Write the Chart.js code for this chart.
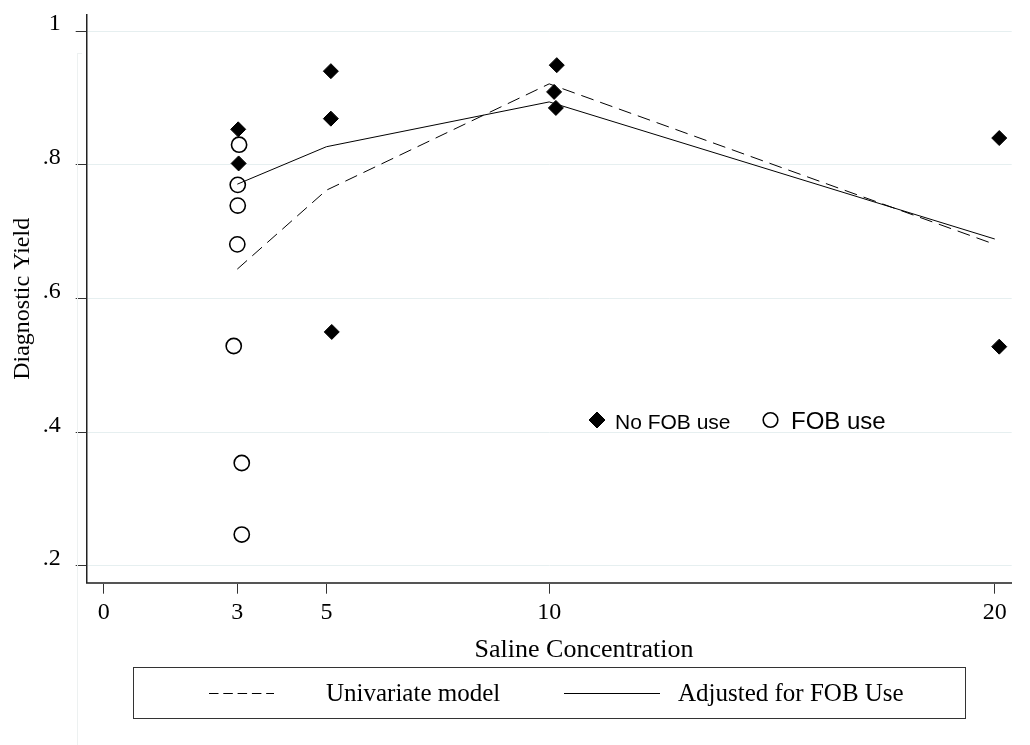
<!DOCTYPE html>
<html>
<head>
<meta charset="utf-8">
<script src="https://cdn.jsdelivr.net/npm/chart.js@4.4.1/dist/chart.umd.min.js"></script>
<style>
  html, body { margin: 0; padding: 0; background: #ffffff; }
  #wrap { width: 1030px; height: 745px; position: relative; }
  canvas { display: block; }
</style>
</head>
<body>
<div id="wrap"><canvas id="c" width="1030" height="745"></canvas></div>
<script>
// ---------------- data ----------------
const xTickValues = [0, 3, 5, 10, 20];
const xTickLabels = ['0', '3', '5', '10', '20'];
const yTickValues = [0.2, 0.4, 0.6, 0.8, 1.0];
const yTickLabels = ['.2', '.4', '.6', '.8', '1'];

const modelX      = [3, 5, 10, 20];
const univariateY = [0.644, 0.762, 0.921, 0.681];
const adjustedY   = [0.771, 0.827, 0.894, 0.689];

const noFobX = [3.02, 3.03, 5.10, 5.10, 5.12, 10.17, 10.11, 10.15, 20.10, 20.10];
const noFobY = [0.853, 0.802, 0.940, 0.869, 0.550, 0.949, 0.909, 0.885, 0.840, 0.528];

const fobX = [3.04, 3.01, 3.01, 3.00, 2.92, 3.10, 3.10];
const fobY = [0.830, 0.770, 0.739, 0.681, 0.529, 0.354, 0.247];

const xTitle = 'Saline Concentration';
const yTitle = 'Diagnostic Yield';
const seriesLabels = ['No FOB use', 'FOB use', 'Univariate model', 'Adjusted for FOB Use'];

// ---------------- styling ----------------
const SERIF = '"Liberation Serif", "Times New Roman", Times, serif';
const SANS  = '"Liberation Sans", Arial, Helvetica, sans-serif';
const AREA = { left: 86.7, top: 15, right: 1011.7, bottom: 582.7 };

const toPts = (xs, ys) => xs.map((x, i) => ({ x: x, y: ys[i] }));

function zeroPad(s) { s.paddingTop = 0; s.paddingBottom = 0; s.paddingLeft = 0; s.paddingRight = 0; }

// custom drawing of the axis title, the inner marker legend and the boxed line legend
const decorPlugin = {
  id: 'decor',
  afterDraw(chart) {
    const ctx = chart.ctx;
    const ds = chart.data.datasets;
    ctx.save();

    // faint frame artefact on the left
    ctx.strokeStyle = '#edf1f1';
    ctx.lineWidth = 1;
    ctx.beginPath();
    ctx.moveTo(77.5, 53); ctx.lineTo(77.5, 745);
    ctx.moveTo(77.5, 53.5); ctx.lineTo(82, 53.5);
    ctx.stroke();

    // x axis title
    ctx.fillStyle = '#000';
    ctx.font = '26px ' + SERIF;
    ctx.textAlign = 'center';
    ctx.textBaseline = 'alphabetic';
    ctx.fillText(chart.options.scales.x.title.text, 584, 657);

    // inner legend for the scatter markers
    const markerItems = [
      { ds: ds[0], mx: 597, tx: 615, size: 21 },
      { ds: ds[1], mx: 770.5, tx: 791, size: 24 }
    ];
    markerItems.forEach(it => {
      const my = 420;
      ctx.lineWidth = it.ds.borderWidth;
      ctx.strokeStyle = it.ds.borderColor;
      ctx.fillStyle = it.ds.backgroundColor;
      ctx.beginPath();
      if (it.ds.pointStyle === 'rectRot') {
        const r = 8;
        ctx.moveTo(it.mx - r, my); ctx.lineTo(it.mx, my - r);
        ctx.lineTo(it.mx + r, my); ctx.lineTo(it.mx, my + r);
        ctx.closePath();
      } else {
        ctx.arc(it.mx, my, 7.3, 0, Math.PI * 2);
      }
      ctx.fill(); ctx.stroke();
      ctx.fillStyle = '#000';
      ctx.font = it.size + 'px ' + SANS;
      ctx.textAlign = 'left';
      ctx.textBaseline = 'alphabetic';
      ctx.fillText(it.ds.label, it.tx, 429);
    });

    // boxed legend for the model lines
    ctx.strokeStyle = '#333';
    ctx.lineWidth = 1;
    ctx.setLineDash([]);
    ctx.strokeRect(133.5, 667.5, 832, 51);
    const lineItems = [
      { ds: ds[2], x0: 209, x1: 274, tx: 326, dash: [9.5, 4.8] },
      { ds: ds[3], x0: 564, x1: 660, tx: 678, dash: [] }
    ];
    lineItems.forEach(it => {
      ctx.strokeStyle = '#000';
      ctx.lineWidth = 1;
      ctx.setLineDash(it.ds.borderDash ? it.dash : []);
      ctx.beginPath();
      ctx.moveTo(it.x0, 693.5); ctx.lineTo(it.x1, 693.5);
      ctx.stroke();
      ctx.setLineDash([]);
      ctx.fillStyle = '#000';
      ctx.font = '25px ' + SERIF;
      ctx.textAlign = 'left';
      ctx.textBaseline = 'alphabetic';
      ctx.fillText(it.ds.label, it.tx, 701);
    });
    ctx.restore();
  }
};

new Chart(document.getElementById('c'), {
  data: {
    datasets: [
      {
        type: 'scatter', label: seriesLabels[0], data: toPts(noFobX, noFobY),
        pointStyle: 'rectRot', pointRadius: 7.5, pointHoverRadius: 7.5,
        backgroundColor: '#000', borderColor: '#000', borderWidth: 1, order: 3
      },
      {
        type: 'scatter', label: seriesLabels[1], data: toPts(fobX, fobY),
        pointStyle: 'circle', pointRadius: 7.6, pointHoverRadius: 7.6,
        backgroundColor: 'rgba(0,0,0,0)', borderColor: '#000', borderWidth: 1.6, order: 4
      },
      {
        type: 'line', label: seriesLabels[2], data: toPts(modelX, univariateY),
        borderColor: '#000', borderWidth: 1, borderDash: [13, 7], pointRadius: 0,
        fill: false, tension: 0, order: 1
      },
      {
        type: 'line', label: seriesLabels[3], data: toPts(modelX, adjustedY),
        borderColor: '#000', borderWidth: 1, pointRadius: 0,
        fill: false, tension: 0, order: 2
      }
    ]
  },
  options: {
    responsive: false,
    animation: false,
    devicePixelRatio: 1,
    layout: { padding: { left: 0, top: AREA.top, right: 1030 - AREA.right, bottom: 0 } },
    plugins: { legend: { display: false }, tooltip: { enabled: false } },
    scales: {
      x: {
        type: 'linear', position: 'bottom', min: -0.38, max: 20.38,
        afterBuildTicks: s => { s.ticks = xTickValues.map(v => ({ value: v })); },
        afterFit: s => { s.height = 745 - AREA.bottom; zeroPad(s); },
        ticks: {
          autoSkip: false, maxRotation: 0, padding: 5, color: '#000',
          font: { family: SERIF, size: 24 },
          callback: v => xTickLabels[xTickValues.indexOf(v)]
        },
        grid: { drawOnChartArea: false, drawTicks: true, tickLength: 11, tickColor: '#333', tickWidth: 1 },
        border: { display: true, color: '#555', width: 2 },
        title: { display: false, text: xTitle }
      },
      y: {
        type: 'linear', position: 'left', min: 0.175, max: 1.024,
        afterBuildTicks: s => { s.ticks = yTickValues.map(v => ({ value: v })); },
        afterFit: s => { s.width = AREA.left; zeroPad(s); },
        ticks: {
          autoSkip: false, padding: 15, labelOffset: -7, color: '#000',
          font: { family: SERIF, size: 24 },
          callback: v => yTickLabels[yTickValues.findIndex(t => Math.abs(t - v) < 1e-9)]
        },
        grid: { color: '#e6eff0', lineWidth: 1, drawTicks: true, tickLength: 11, tickColor: '#333', tickWidth: 1 },
        border: { display: true, color: '#222', width: 1.5 },
        title: {
          display: true, text: yTitle, color: '#000',
          font: { family: SERIF, size: 24, lineHeight: 1.2 },
          padding: { top: 8, bottom: 0 }
        }
      }
    }
  },
  plugins: [decorPlugin]
});
</script>
</body>
</html>
